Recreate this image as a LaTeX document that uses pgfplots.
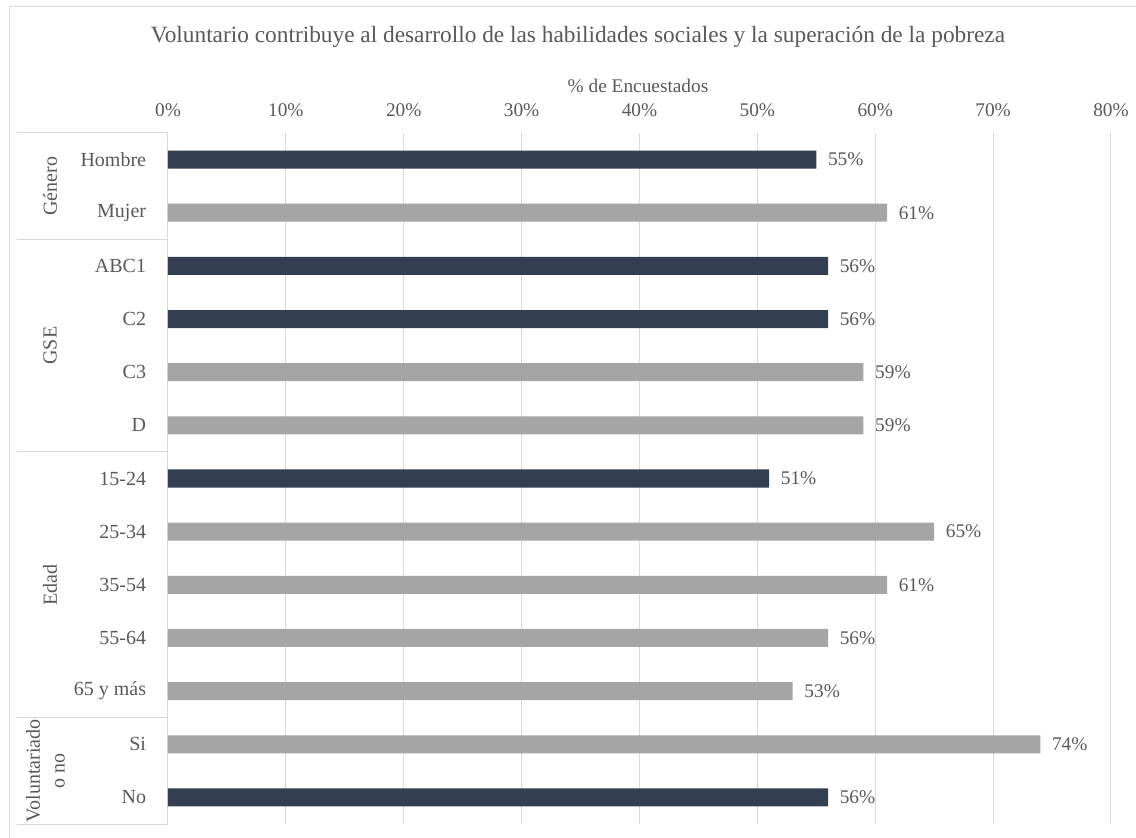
\documentclass[border=0pt]{standalone}
\usepackage{pgfplots}
\pgfplotsset{compat=1.18}
\usepackage{fontspec}
\setmainfont{Liberation Serif}
\definecolor{darkbar}{HTML}{333F50}
\definecolor{graybar}{HTML}{A5A5A5}
\definecolor{txt}{HTML}{595959}
\definecolor{gridc}{HTML}{D9D9D9}
\begin{document}
\begin{tikzpicture}
\useasboundingbox (0pt,0pt) rectangle (852pt,-628.5pt);
\draw[gridc, line width=0.75pt] (6.75pt,-628.5pt) -- (6.75pt,-5.25pt) -- (852pt,-5.25pt);
\node[txt, font=\fontsize{17.5}{21}\selectfont] at (433.5pt,-28pt) {Voluntario contribuye al desarrollo de las habilidades sociales y la superación de la pobreza};
\node[txt, font=\fontsize{14.5}{17}\selectfont] at (478.5pt,-64.5pt) {\% de Encuestados};
\begin{axis}[
  at={(126pt,-99.75pt)}, anchor=north west,
  scale only axis, width=707.25pt, height=518.25pt,
  xbar, bar shift=0pt, bar width=13.5pt,
  xmin=0, xmax=80, ymin=-0.5, ymax=12.5,
  xtick={0,10,...,80},
  xticklabel={\pgfmathprintnumber{\tick}\%},
  xticklabel pos=upper,
  ytick={0,...,12},
  yticklabels={No,Si,65 y más,55-64,35-54,25-34,15-24,D,C3,C2,ABC1,Mujer,Hombre},
  axis line style={draw=none}, tick style={draw=none},
  xmajorgrids, grid style={gridc, line width=0.75pt},
  ticklabel style={font=\fontsize{14.5}{17}\selectfont, text=txt},
  xticklabel style={anchor=base, inner sep=0pt, yshift=12pt},
  yticklabel style={anchor=east, inner sep=0pt, xshift=-12pt, font=\fontsize{15}{18}\selectfont},
  /pgf/number format/assume math mode=true,
  point meta=x,
  nodes near coords={\pgfmathprintnumber{\pgfplotspointmeta}\%},
  every node near coord/.append style={font=\fontsize{14.5}{17}\selectfont, text=txt, anchor=west, inner sep=0pt, xshift=8.6pt},
  clip=false,
]
% y index: Hombre=12 ... No=0
\addplot[fill=darkbar, draw=none] coordinates {(55,12) (56,10) (56,9) (51,6) (56,0)};
\addplot[fill=graybar, draw=none] coordinates {(61,11) (59,8) (59,7) (65,5) (61,4) (56,3) (53,2) (74,1)};
\foreach \yy in {-0.5,1.5,6.5,10.5,12.5} {
  \edef\tmp{\noexpand\draw[gridc, line width=0.75pt] (axis cs:-12.81,\yy) -- (axis cs:0,\yy);}
  \tmp
}
\node[rotate=90, text=txt, font=\fontsize{15}{18}\selectfont] at (axis cs:-10.0,11.5) {Género};
\node[rotate=90, text=txt, font=\fontsize{15}{18}\selectfont] at (axis cs:-10.0,8.5) {GSE};
\node[rotate=90, text=txt, font=\fontsize{15}{18}\selectfont] at (axis cs:-10.0,4) {Edad};
\node[rotate=90, text=txt, align=center, inner sep=0pt, font=\fontsize{15}{18.5}\selectfont] at (axis cs:-10.4,0.5) {Voluntariado\\o no};
\end{axis}
\end{tikzpicture}
\end{document}
